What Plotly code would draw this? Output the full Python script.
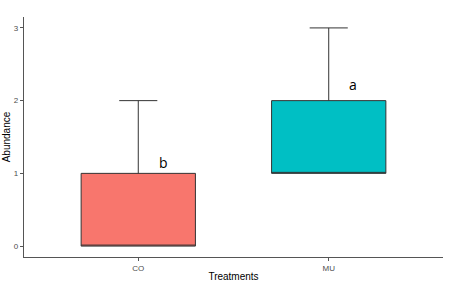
import plotly.graph_objects as go

treatments = ["CO", "MU"]
q1 = [0, 1]
median = [0, 1]
q3 = [1, 2]
lower = [0, 1]
upper = [2, 3]
letters = ["b", "a"]
letter_y = [1.15, 2.22]
colors = ["#F8766D", "#00BFC4"]

fig = go.Figure()
pos = list(range(len(treatments)))
for i, t in enumerate(treatments):
    fig.add_trace(go.Box(
        x=[pos[i]], q1=[q1[i]], median=[median[i]], q3=[q3[i]],
        lowerfence=[lower[i]], upperfence=[upper[i]],
        width=0.6, fillcolor=colors[i],
        line=dict(color="#333333", width=1), whiskerwidth=0,
        boxpoints=False, hoverinfo="skip", showlegend=False,
    ))
    fig.add_trace(go.Scatter(
        x=[pos[i] - 0.1, pos[i] + 0.1], y=[upper[i], upper[i]],
        mode="lines", line=dict(color="#333333", width=1),
        showlegend=False, hoverinfo="skip",
    ))
    fig.add_annotation(x=pos[i] + 0.13, y=letter_y[i], text=letters[i],
                       showarrow=False, font=dict(size=14, color="black",
                                                  family="Open Sans"))

fig.update_layout(
    width=453, height=286, plot_bgcolor="white", paper_bgcolor="white",
    margin=dict(l=24, r=10, t=17, b=29),
    font=dict(family="Liberation Sans"),
)
fig.update_xaxes(
    range=[-0.6, 1.6], tickvals=pos, ticktext=treatments, automargin=False,
    showline=True, linecolor="#555555", linewidth=1.2, showgrid=False,
    zeroline=False, ticks="outside", ticklen=3, tickcolor="#555555",
    tickfont=dict(size=8, color="#4d4d4d"),
    title=dict(text="Treatments", font=dict(size=10, color="black"), standoff=1),
)
fig.update_yaxes(
    range=[-0.15, 3.15], tickvals=[0, 1, 2, 3], automargin=False,
    showline=True, linecolor="#555555", linewidth=1.2, showgrid=False,
    zeroline=False, ticks="outside", ticklen=3, tickcolor="#555555",
    tickfont=dict(size=8, color="#4d4d4d"),
    title=dict(text="Abundance", font=dict(size=10, color="black"), standoff=1),
)
fig.write_html("out.html", config={"displayModeBar": False},
               post_script="document.body.style.margin='0';document.body.style.overflow='hidden';")
